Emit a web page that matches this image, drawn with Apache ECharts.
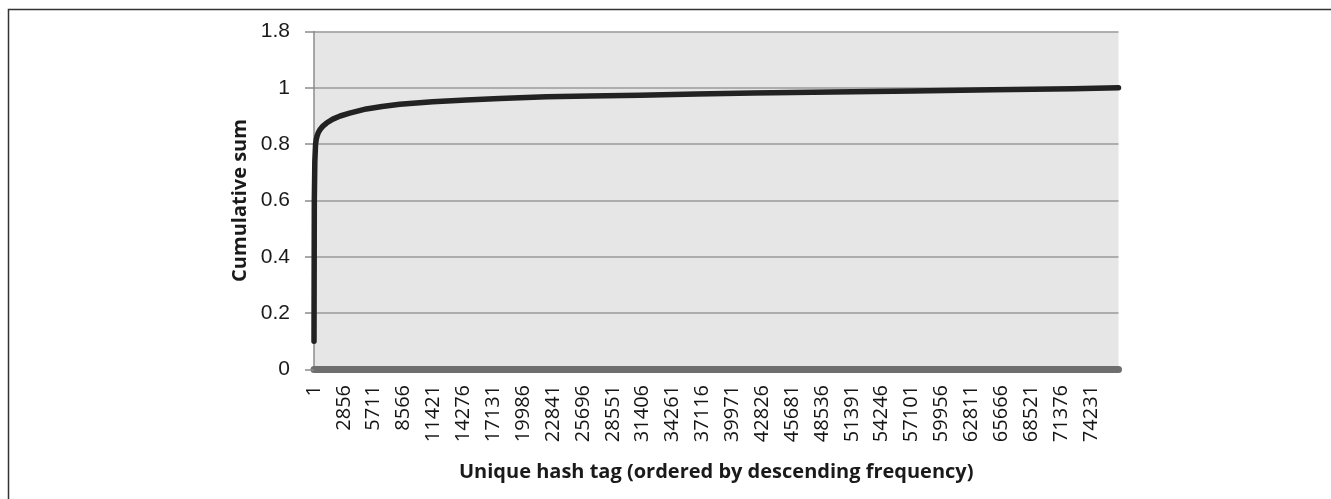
<!DOCTYPE html>
<html>
<head>
<meta charset="utf-8">
<script src="https://cdn.jsdelivr.net/npm/echarts@6/dist/echarts.min.js"></script>
<style>
html,body{margin:0;padding:0;background:#fff;}
#chart{width:1331px;height:499px;}
</style>
</head>
<body>
<div id="chart"></div>
<script>
// Rank of the hash tag (1 = most frequent) and cumulative share
const ranks = [1, 30, 80, 150, 220, 300, 420, 600, 850, 1200, 1800, 2500, 3400, 5000, 6500, 8200, 11330, 14550, 17740, 22230, 26340, 31120, 36570, 41920, 49570, 57220, 64870, 72520, 76860];
const cumulative = [0.10, 0.60, 0.74, 0.80, 0.818, 0.830, 0.842, 0.853, 0.864, 0.875, 0.889, 0.900, 0.910, 0.925, 0.934, 0.942, 0.951, 0.957, 0.962, 0.968, 0.971, 0.974, 0.978, 0.982, 0.985, 0.989, 0.993, 0.997, 1.0];
const xTickLabels = ['1','2856','5711','8566','11421','14276','17131','19986','22841','25696','28551','31406','34261','37116','39971','42826','45681','48536','51391','54246','57101','59956','62811','65666','68521','71376','74231'];
const yTickLabels = ['0','0.2','0.4','0.6','0.8','1','1.8'];
const xTitle = 'Unique hash tag (ordered by descending frequency)';
const yTitle = 'Cumulative sum';
const xStep = 2855;
const xMax = 76860;

const chart = echarts.init(document.getElementById('chart'), null, {renderer: 'canvas'});
const seriesData = ranks.map((r, i) => [r, cumulative[i]]);

chart.setOption({
  animation: false,
  backgroundColor: '#fff',
  graphic: [{
    type: 'rect', left: 6, top: 7, silent: true, z: -10,
    shape: {width: 1340, height: 510},
    style: {fill: 'none', stroke: '#333', lineWidth: 1.5}
  }],
  grid: {left: 314, right: 212.5, top: 31.5, bottom: 129.5, show: true, backgroundColor: '#e6e6e6', borderWidth: 0},
  xAxis: {
    type: 'value', min: 0, max: xMax, interval: xStep, offset: 3.5,
    name: xTitle, nameLocation: 'middle', nameGap: 89,
    nameTextStyle: {fontFamily: 'Open Sans', fontWeight: 'bold', fontSize: 20, color: '#1a1a1a'},
    axisLine: {show: true, lineStyle: {color: '#6e6e6e', width: 7}},
    axisTick: {show: false},
    splitLine: {show: false},
    axisLabel: {
      rotate: 90, margin: 12, fontFamily: 'Open Sans', fontSize: 20, color: '#151515',
      showMaxLabel: true,
      formatter: v => { const i = Math.round(v / xStep); return (Math.abs(i * xStep - v) < 1 && xTickLabels[i] !== undefined) ? xTickLabels[i] : ''; }
    }
  },
  yAxis: {
    type: 'value', min: 0, max: 1.2, interval: 0.2,
    name: yTitle, nameLocation: 'middle', nameGap: 62, nameRotate: 90,
    nameTextStyle: {fontFamily: 'Open Sans', fontWeight: 'bold', fontSize: 20, color: '#1a1a1a'},
    axisLine: {show: true, lineStyle: {color: '#8c8c8c', width: 1.5}},
    axisTick: {show: true, length: 9, inside: false, lineStyle: {color: '#8c8c8c', width: 1.5}},
    splitLine: {show: true, lineStyle: {color: '#9a9a9a', width: 1.5}},
    axisLabel: {
      margin: 24, fontFamily: 'Liberation Sans', fontSize: 21, color: '#1a1a1a',
      formatter: v => { const i = Math.round(v / 0.2); return yTickLabels[i] !== undefined ? yTickLabels[i] : ''; }
    }
  },
  series: [{
    type: 'line', data: seriesData, showSymbol: false, smooth: false,
    lineStyle: {color: '#222', width: 5.5, cap: 'round', join: 'round'},
    clip: false
  }]
});
</script>
</body>
</html>
